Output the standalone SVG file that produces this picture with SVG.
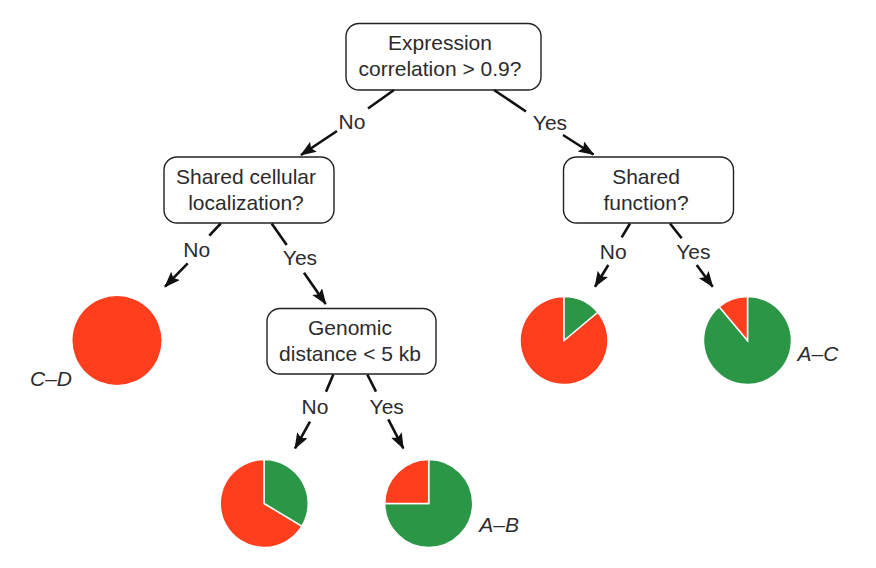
<svg xmlns="http://www.w3.org/2000/svg" width="876" height="568" viewBox="0 0 876 568">
<defs>
<marker id="arr" markerUnits="userSpaceOnUse" markerWidth="18" markerHeight="14" refX="15" refY="6" orient="auto">
<path d="M0,0 L16,6 L0,12 L3,6 Z" fill="#111"/>
</marker>
</defs>
<style>
.box{fill:#fff;stroke:#222;stroke-width:1.4}
.t{font-family:"Liberation Sans",Arial,sans-serif;font-size:21px;fill:#2b2b2d;text-anchor:middle}
.lab{font-family:"Liberation Sans",Arial,sans-serif;font-size:21px;fill:#2b2b2d;font-style:italic}
.c line{stroke:#111;stroke-width:2.6;fill:none}
.c line.a{marker-end:url(#arr)}
.red{fill:#ff3e1e;stroke:#fff;stroke-width:1.5}
.grn{fill:#2a9646;stroke:#fff;stroke-width:1.5}
</style>
<rect width="876" height="568" fill="#fff"/>

<g id="q-expression">
<rect class="box" x="346" y="23.5" width="195" height="66.5" rx="13"/>
<text class="t" x="440" y="50">Expression</text>
<text class="t" x="440" y="76">correlation &gt; 0.9?</text>
</g>

<g id="q-localization">
<rect class="box" x="164" y="157" width="170" height="66" rx="13"/>
<text class="t" x="246" y="184">Shared cellular</text>
<text class="t" x="246" y="210">localization?</text>
</g>

<g id="q-function">
<rect class="box" x="563.5" y="157" width="170" height="66" rx="13"/>
<text class="t" x="646" y="184">Shared</text>
<text class="t" x="646" y="210">function?</text>
</g>

<g id="q-genomic">
<rect class="box" x="267" y="308.5" width="169" height="65.5" rx="13"/>
<text class="t" x="350" y="335">Genomic</text>
<text class="t" x="350" y="361">distance &lt; 5 kb</text>
</g>

<g id="connectors" class="c">
<line x1="394" y1="90" x2="368" y2="108.5"/>
<line class="a" x1="337" y1="131" x2="301" y2="155"/>
<line x1="494" y1="90" x2="526" y2="111.5"/>
<line class="a" x1="563" y1="135" x2="593.5" y2="154.5"/>
<line x1="220.7" y1="223.5" x2="209.3" y2="235.7"/>
<line class="a" x1="187.7" y1="263.3" x2="165" y2="286.7"/>
<line x1="271.7" y1="223.5" x2="286.7" y2="245"/>
<line class="a" x1="304" y1="272.7" x2="325.7" y2="304"/>
<line x1="630" y1="223.5" x2="621.7" y2="237.3"/>
<line class="a" x1="608.3" y1="265" x2="595" y2="286.7"/>
<line x1="670" y1="223.5" x2="681.7" y2="238.3"/>
<line class="a" x1="696.7" y1="265" x2="712.7" y2="286.7"/>
<line x1="333.3" y1="374.5" x2="326" y2="391.7"/>
<line class="a" x1="310" y1="421.7" x2="295" y2="448.3"/>
<line x1="367.3" y1="374.5" x2="376" y2="391.7"/>
<line class="a" x1="388.3" y1="419.3" x2="403.3" y2="448.3"/>
<text class="t" x="352" y="129">No</text>
<text class="t" x="550" y="129.5">Yes</text>
<text class="t" x="196.7" y="256.7">No</text>
<text class="t" x="300" y="265">Yes</text>
<text class="t" x="613.3" y="259.3">No</text>
<text class="t" x="693.3" y="259">Yes</text>
<text class="t" x="315" y="414.3">No</text>
<text class="t" x="386.7" y="414">Yes</text>
</g>

<g id="pie-CD">
<circle cx="117" cy="340.5" r="44.5" fill="#ff3e1e"/>
<text class="lab" x="30" y="386">C–D</text>
</g>

<g id="pie-func-no">
<path class="red" d="M564,340.5 L597.7,312.2 A44,44 0 1,1 564,296.5 Z"/>
<path class="grn" d="M564,340.5 L564,296.5 A44,44 0 0,1 597.7,312.2 Z"/>
</g>

<g id="pie-AC">
<path class="grn" d="M747.5,340.5 L747.5,296.5 A44,44 0 1,1 719.2,306.8 Z"/>
<path class="red" d="M747.5,340.5 L719.2,306.8 A44,44 0 0,1 747.5,296.5 Z"/>
<text class="lab" x="797.5" y="361">A–C</text>
</g>

<g id="pie-genomic-no">
<path class="red" d="M264.2,503.5 L301.9,526.2 A44,44 0 1,1 264.2,459.5 Z"/>
<path class="grn" d="M264.2,503.5 L264.2,459.5 A44,44 0 0,1 301.9,526.2 Z"/>
</g>

<g id="pie-AB">
<path class="grn" d="M428.7,503.5 L428.7,459.5 A44,44 0 1,1 384.7,503.5 Z"/>
<path class="red" d="M428.7,503.5 L384.7,503.5 A44,44 0 0,1 428.7,459.5 Z"/>
<text class="lab" x="479.3" y="531.7">A–B</text>
</g>
</svg>
